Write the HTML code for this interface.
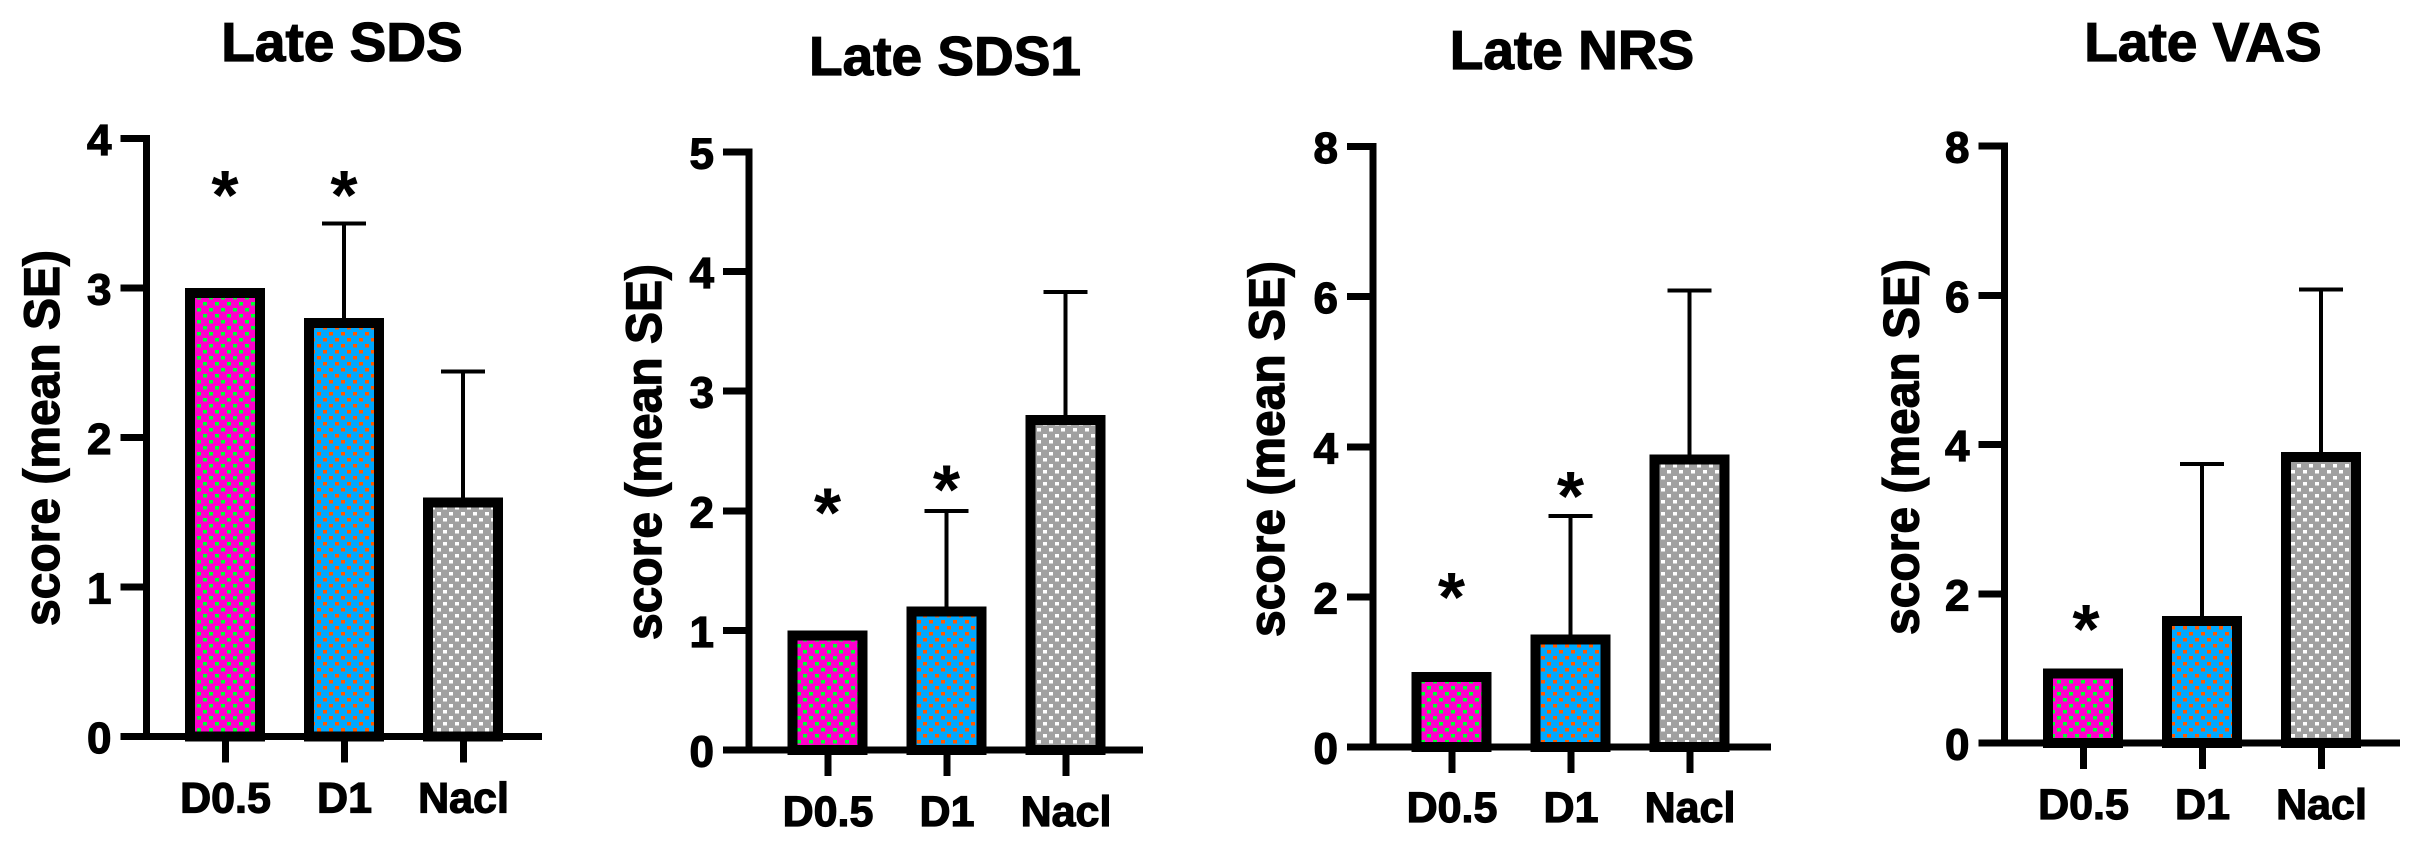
<!DOCTYPE html>
<html lang="en">
<head>
<meta charset="utf-8">
<title>Late scores by group</title>
<style>
  html, body { margin: 0; padding: 0; background: #fff; }
  body { width: 2420px; height: 854px; overflow: hidden; }
  svg { display: block; }
  text { font-family: "Liberation Sans", Arial, sans-serif; font-weight: bold; fill: #000; stroke: #000; stroke-width: 1.2px; }
  text.star { stroke: none; }
</style>
</head>
<body>
<svg id="figure" xmlns="http://www.w3.org/2000/svg" width="2420" height="854" viewBox="0 0 2420 854">
  <defs>
    <pattern id="dots-magenta" width="12" height="12" patternUnits="userSpaceOnUse" patternTransform="translate(5,8)">
      <rect width="12" height="12" fill="#ff00cc"/>
      <rect x="0" y="0" width="4" height="3.5" fill="#00ff33"/>
      <rect x="6" y="6" width="4" height="3.5" fill="#00ff33"/>
    </pattern>
    <pattern id="dots-blue" width="12" height="12" patternUnits="userSpaceOnUse" patternTransform="translate(5,8)">
      <rect width="12" height="12" fill="#00a8ff"/>
      <rect x="0" y="0" width="4" height="3.5" fill="#ff5a00"/>
      <rect x="6" y="6" width="4" height="3.5" fill="#ff5a00"/>
    </pattern>
    <pattern id="dots-grey" width="12" height="12" patternUnits="userSpaceOnUse" patternTransform="translate(5,8)">
      <rect width="12" height="12" fill="#a0a0a0"/>
      <rect x="0" y="0" width="4" height="3.5" fill="#ffffff"/>
      <rect x="6" y="6" width="4" height="3.5" fill="#ffffff"/>
    </pattern>
  </defs>
</svg>
<script>
// ----- data -----
const categories = ["D0.5", "D1", "Nacl"];
const panelTitles = ["Late SDS", "Late SDS1", "Late NRS", "Late VAS"];
const yAxisLabel = "score (mean SE)";

const sdsMeans = [3.0, 2.8, 1.6];
const sds1Means = [1.0, 1.2, 2.8];
const nrsMeans = [1.0, 1.5, 3.9];
const vasMeans = [1.0, 1.7, 3.9];

// upper end of each error bar; null = no error bar drawn
const sdsUpper = [null, 3.43, 2.44];
const sds1Upper = [null, 2.0, 3.83];
const nrsUpper = [null, 3.08, 6.08];
const vasUpper = [null, 3.74, 6.08];

// height of each significance star in axis units; null = no star
const sdsStars = [3.69, 3.69, null];
const sds1Stars = [2.07, 2.26, null];
const nrsStars = [2.13, 3.48, null];
const vasStars = [1.66, null, null];

const sdsTicks = [0, 1, 2, 3, 4];
const sds1Ticks = [0, 1, 2, 3, 4, 5];
const nrsTicks = [0, 2, 4, 6, 8];
const vasTicks = [0, 2, 4, 6, 8];

const allMeans = [sdsMeans, sds1Means, nrsMeans, vasMeans];
const allUpper = [sdsUpper, sds1Upper, nrsUpper, vasUpper];
const allStars = [sdsStars, sds1Stars, nrsStars, vasStars];
const allTicks = [sdsTicks, sds1Ticks, nrsTicks, vasTicks];

// ----- layout -----
const frames = [
  { axisX: 146.5, y0: 736.5, yTop: 138.5, xEnd: 542, band0: 225, titleX: 342, titleY: 61, labelX: 59, labelY: 438, xLabelY: 812.5, starDx: 0 },
  { axisX: 749, y0: 750, yTop: 152, xEnd: 1143, band0: 827.5, titleX: 945, titleY: 75, labelX: 661, labelY: 452, xLabelY: 826, starDx: 0 },
  { axisX: 1373, y0: 747, yTop: 146.5, xEnd: 1771, band0: 1451.5, titleX: 1572, titleY: 69, labelX: 1284, labelY: 449, xLabelY: 822, starDx: 0 },
  { axisX: 2004.5, y0: 743, yTop: 146, xEnd: 2400, band0: 2083, titleX: 2203, titleY: 61, labelX: 1918.5, labelY: 447, xLabelY: 819, starDx: 3 }
];
const bandStep = 119;
const barWidth = 80;
const borderWidth = 10;
const capHalf = 22;
const fills = ["url(#dots-magenta)", "url(#dots-blue)", "url(#dots-grey)"];
const seriesKeys = ["d0-5", "d1", "nacl"];

const NS = "http://www.w3.org/2000/svg";
const figure = document.getElementById("figure");

function make(parent, tag, attrs, text) {
  const node = document.createElementNS(NS, tag);
  for (const k in attrs) node.setAttribute(k, attrs[k]);
  if (text !== undefined) node.textContent = text;
  parent.appendChild(node);
  return node;
}

function line(parent, x1, y1, x2, y2, w) {
  return make(parent, "line", { x1: x1, y1: y1, x2: x2, y2: y2, stroke: "#000", "stroke-width": w, "shape-rendering": "crispEdges" });
}

frames.forEach(function (f, p) {
  const ticks = allTicks[p];
  const maxTick = ticks[ticks.length - 1];
  const yScale = function (v) { return f.y0 - v * (f.y0 - f.yTop) / maxTick; };
  const xScale = function (i) { return f.band0 + i * bandStep; };
  const prefix = ["sds", "sds1", "nrs", "vas"][p];

  const group = make(figure, "g", {});
  
  

  const title = make(group, "text", { x: f.titleX, y: f.titleY, "text-anchor": "middle", "font-size": 55 }, panelTitles[p]);
  
  

  const yLabel = make(group, "text", {
    x: 0, y: 0, "text-anchor": "middle", "font-size": 48,
    transform: "translate(" + f.labelX + "," + f.labelY + ") rotate(-90) scale(1,1.04)"
  }, yAxisLabel);
  
  

  categories.forEach(function (cat, i) {
    const cx = xScale(i);
    const top = yScale(allMeans[p][i]);
    const left = cx - barWidth / 2;

    if (allUpper[p][i] !== null) {
      const capY = yScale(allUpper[p][i]);
      const stem = line(group, cx, top, cx, capY, 4);
      
      
      const cap = line(group, cx - capHalf, capY, cx + capHalf, capY, 4);
      
      
    }

    const bar = make(group, "rect", {
      x: left + borderWidth / 2, y: top + borderWidth / 2,
      width: barWidth - borderWidth, height: Math.max(0, f.y0 - top - borderWidth / 2),
      fill: fills[i], stroke: "#000", "stroke-width": borderWidth, "shape-rendering": "crispEdges"
    });
    
    

    const xTick = line(group, cx + 0.5, f.y0, cx + 0.5, f.y0 + 26, 7);
    
    

    const xLab = make(group, "text", { x: cx + 0.5, y: f.xLabelY, "text-anchor": "middle", "font-size": 43 }, cat);
    
    

    if (allStars[p][i] !== null) {
      const star = make(group, "text", { class: "star", x: cx + f.starDx, y: yScale(allStars[p][i]) + 34, "text-anchor": "middle", "font-size": 70 }, "*");
      
      
    }
  });

  const xAxis = line(group, f.axisX - 26, f.y0, f.xEnd, f.y0, 7);
  
  

  const yAxis = line(group, f.axisX, f.yTop - 3.5, f.axisX, f.y0 + 3.5, 7);
  
  

  ticks.forEach(function (t) {
    const y = yScale(t);
    const mark = line(group, f.axisX - 26, y, f.axisX, y, 7);
    
    
    const lab = make(group, "text", { x: f.axisX - 35, y: y + 16.5, "text-anchor": "end", "font-size": 44 }, String(t));
    
    
  });
});
</script>
</body>
</html>
